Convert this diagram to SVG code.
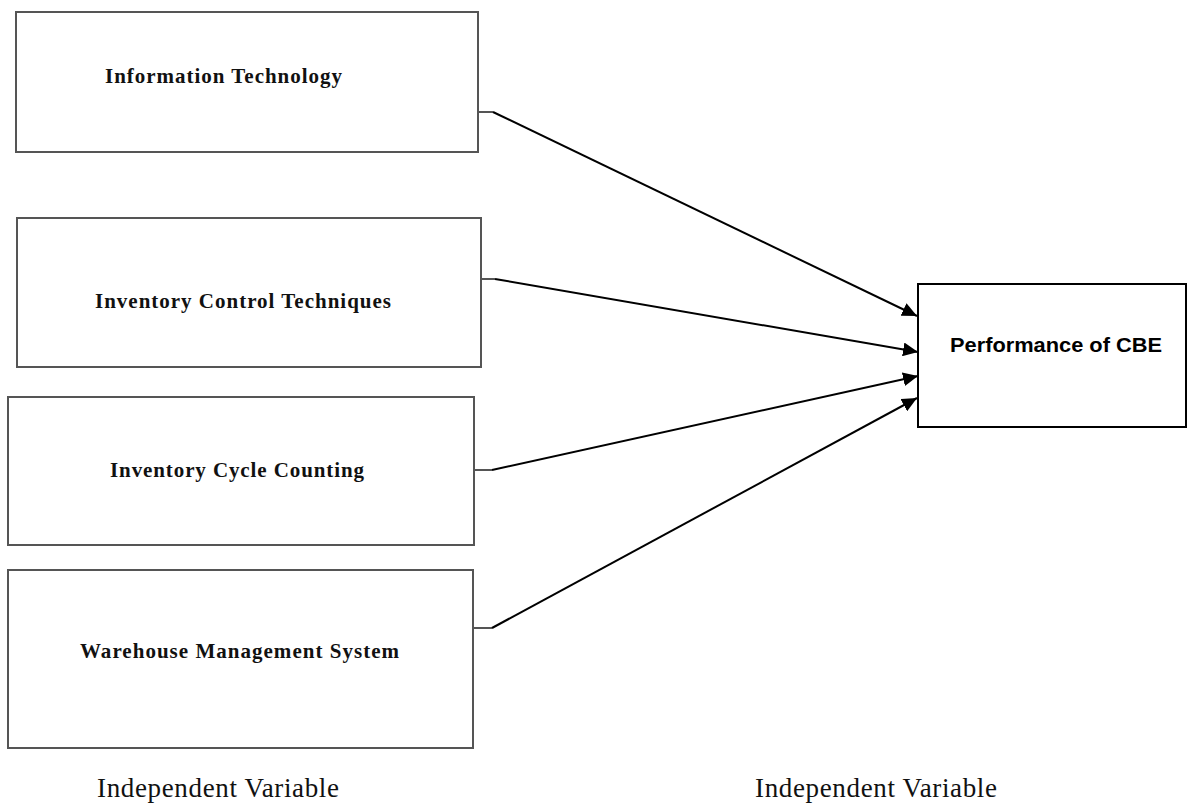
<svg xmlns="http://www.w3.org/2000/svg" width="1187" height="804" viewBox="0 0 1187 804">
<style>
.box{fill:#fff;stroke:#555;stroke-width:2}
.perf{fill:#fff;stroke:#000;stroke-width:2}
.lbl{font-family:"Liberation Serif","Times New Roman",serif;font-weight:bold;font-size:21px;fill:#111}
.cap{font-family:"Liberation Serif","Times New Roman",serif;font-size:27px;fill:#111}
.ptxt{font-family:"Liberation Sans",Arial,sans-serif;font-weight:bold;font-size:21px;fill:#000}
.stub{stroke:#555;stroke-width:2;fill:none}
.conn{stroke:#000;stroke-width:2;fill:none}
</style>
<defs>
<marker id="arr" markerUnits="userSpaceOnUse" markerWidth="16" markerHeight="14" refX="15" refY="7" orient="auto">
<path d="M0,0 L15,7 L0,14 Z" fill="#000"/>
</marker>
</defs>
<rect width="1187" height="804" fill="#fff"/>
<g id="node-it">
<rect class="box" x="16" y="12" width="462" height="140"/>
<text class="lbl" x="105" y="83" textLength="237" lengthAdjust="spacing">Information Technology</text>
</g>
<g id="node-ict">
<rect class="box" x="17" y="218" width="464" height="149"/>
<text class="lbl" x="95" y="308" textLength="296" lengthAdjust="spacing">Inventory Control Techniques</text>
</g>
<g id="node-icc">
<rect class="box" x="8" y="397" width="466" height="148"/>
<text class="lbl" x="110" y="477" textLength="254" lengthAdjust="spacing">Inventory Cycle Counting</text>
</g>
<g id="node-wms">
<rect class="box" x="8" y="570" width="465" height="178"/>
<text class="lbl" x="80" y="658" textLength="319" lengthAdjust="spacing">Warehouse Management System</text>
</g>
<g id="node-perf">
<rect class="perf" x="918" y="284" width="268" height="143"/>
<text class="ptxt" x="950" y="352" textLength="212" lengthAdjust="spacingAndGlyphs">Performance of CBE</text>
</g>
<g id="connectors">
<path class="stub" d="M478,112 H493"/>
<path class="conn" d="M493,112 L917,316" marker-end="url(#arr)"/>
<path class="stub" d="M481,279 H495"/>
<path class="conn" d="M495,279 L918,352" marker-end="url(#arr)"/>
<path class="stub" d="M474,470 H492"/>
<path class="conn" d="M492,470 L918,376" marker-end="url(#arr)"/>
<path class="stub" d="M473,628 H492"/>
<path class="conn" d="M492,628 L917,398" marker-end="url(#arr)"/>
</g>
<g id="captions">
<text class="cap" x="97" y="797" textLength="242" lengthAdjust="spacing">Independent Variable</text>
<text class="cap" x="755" y="797" textLength="242" lengthAdjust="spacing">Independent Variable</text>
</g>
</svg>
